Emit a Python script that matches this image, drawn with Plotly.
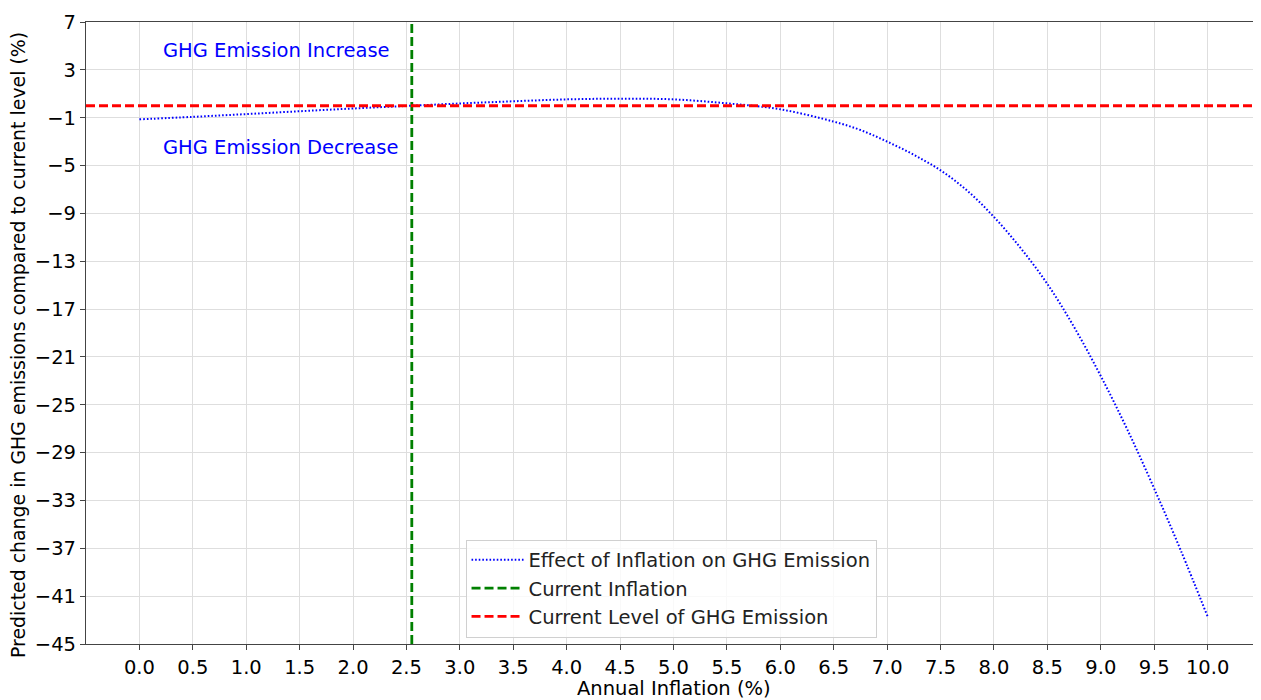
import plotly.graph_objects as go

# Data
inflation = [0.0, 0.5, 1.0, 1.5, 2.0, 2.5, 3.0, 3.5, 4.0, 4.5, 5.0, 5.5, 6.0,
             6.5, 6.75, 7.0, 7.25, 7.5, 7.75, 8.0, 8.25, 8.5, 8.75, 9.0,
             9.25, 9.5, 9.75, 10.0]
ghg_change = [-1.14, -0.93, -0.70, -0.46, -0.23, -0.02, 0.19, 0.37, 0.53, 0.59,
              0.53, 0.20, -0.30, -1.33, -2.03, -3.0, -4.1, -5.4, -7.1, -9.3,
              -11.9, -14.9, -18.5, -22.6, -27.1, -32.0, -37.2, -42.7]
current_inflation = 2.55
current_level = 0.0

x_range = [-0.5, 10.5]
y_range = [-45, 7]
x_ticks = [i * 0.5 for i in range(21)]
x_ticklabels = [f"{v:.1f}" for v in x_ticks]
y_ticks = list(range(7, -46, -4))

FONT = "DejaVu Sans"
FS = 19.5

fig = go.Figure()
fig.add_trace(go.Scatter(
    x=inflation, y=ghg_change, mode="lines", line_shape="spline",
    name="Effect of Inflation on GHG Emission",
    line=dict(color="#0000ff", width=2, dash="1.6px,2px")))
fig.add_trace(go.Scatter(
    x=[current_inflation, current_inflation], y=y_range, mode="lines",
    name="Current Inflation",
    line=dict(color="#008000", width=2.8, dash="9px,4px")))
fig.add_trace(go.Scatter(
    x=x_range, y=[current_level, current_level], mode="lines",
    name="Current Level of GHG Emission",
    line=dict(color="#ff0000", width=2.8, dash="9px,4px")))

fig.add_annotation(x=0.2, y=4.65, text="GHG Emission Increase", showarrow=False,
                   xanchor="left", yanchor="middle",
                   font=dict(family=FONT, size=FS, color="#0000ff"))
fig.add_annotation(x=0.2, y=-3.45, text="GHG Emission Decrease", showarrow=False,
                   xanchor="left", yanchor="middle",
                   font=dict(family=FONT, size=FS, color="#0000ff"))

# Axis titles placed as annotations for exact positioning
fig.add_annotation(xref="paper", yref="paper", x=0, y=0.5, xshift=-68, yshift=-12,
                   text="Predicted change in GHG emissions compared to current level (%)",
                   textangle=-90, showarrow=False, xanchor="center", yanchor="middle",
                   font=dict(family=FONT, size=18.9, color="black"))
fig.add_annotation(xref="paper", yref="paper", x=0.5, y=0, yshift=-44,
                   text="Annual Inflation (%)", showarrow=False,
                   xanchor="center", yanchor="middle",
                   font=dict(family=FONT, size=FS, color="black"))

# The page body adds an 8px offset, so the figure is 8px smaller than the window
fig.update_layout(
    width=1253, height=692,
    margin=dict(l=78, r=0, t=14, b=56),
    paper_bgcolor="white", plot_bgcolor="white",
    font=dict(family=FONT, size=FS, color="black"),
    showlegend=True,
    legend=dict(x=0.323, y=0.168, xanchor="left", yanchor="top",
                bgcolor="rgba(255,255,255,0.8)", bordercolor="#d0d0d0", borderwidth=1,
                font=dict(family=FONT, size=FS, color="#222"),
                tracegroupgap=0, itemwidth=52),
)
fig.update_xaxes(
    range=x_range, tickmode="array", tickvals=x_ticks, ticktext=x_ticklabels,
    showgrid=True, gridcolor="#dedede", gridwidth=1.2, zeroline=False,
    showline=True, linecolor="#444", linewidth=1.2, mirror=True,
    ticks="outside", ticklen=5, tickcolor="#444", automargin=False,
    tickfont=dict(family=FONT, size=FS, color="black"))
fig.update_yaxes(
    range=y_range, tickmode="array", tickvals=y_ticks,
    showgrid=True, gridcolor="#dedede", gridwidth=1.2, zeroline=False,
    showline=True, linecolor="#444", linewidth=1.2, mirror=True,
    ticks="outside", ticklen=5, tickcolor="#444", automargin=False,
    tickfont=dict(family=FONT, size=FS, color="black"))

fig.write_html("out.html")
